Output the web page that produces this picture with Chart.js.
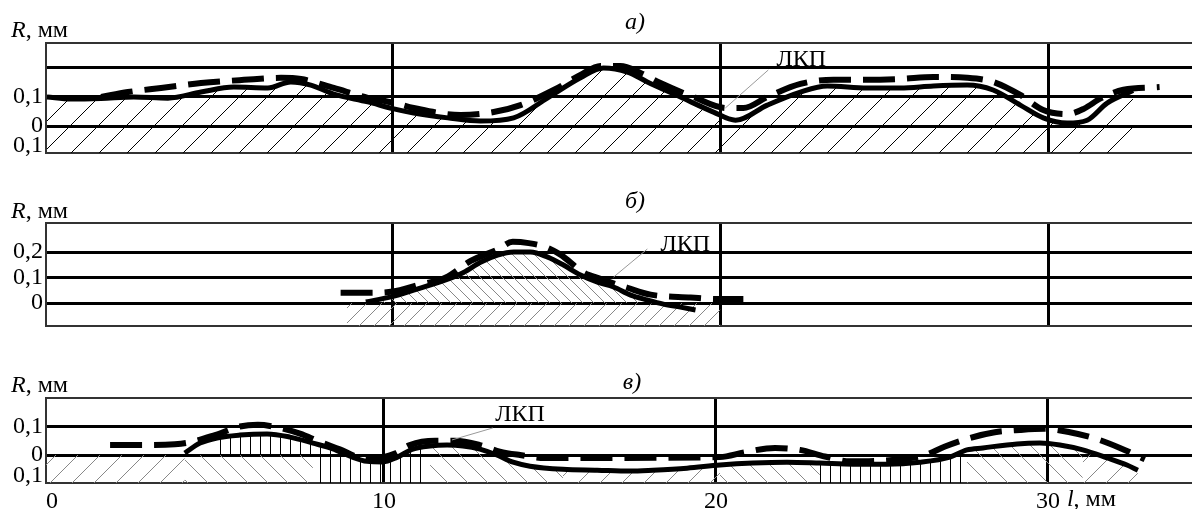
<!DOCTYPE html>
<html lang="ru">
<head>
<meta charset="utf-8">
<script src="https://cdn.jsdelivr.net/npm/chart.js@4.4.1/dist/chart.umd.min.js"></script>
<style>
  body { margin: 0; background: #fff; }
  .panel { position: absolute; left: 0; }
</style>
</head>
<body>
<canvas id="chartA" class="panel" width="1192" height="160" style="top:0"></canvas>
<canvas id="chartB" class="panel" width="1192" height="175" style="top:160px"></canvas>
<canvas id="chartC" class="panel" width="1192" height="174" style="top:335px"></canvas>
<script>
// ---- данные (l, мм ; R, мм) ----
const solidA = [[-0.55,0.1],[0.18,0.093],[1.1,0.095],[2.1,0.1],[3.14,0.096],[4.15,0.117],[5.15,0.134],
  [6.19,0.131],[6.89,0.152],[7.5,0.141],[8.2,0.11],[9.24,0.083],[10.0,0.06],[10.64,0.045],[11.68,0.028],
  [12.68,0.017],[13.69,0.028],[14.73,0.097],[15.73,0.166],[16.43,0.2],[17.16,0.186],[17.77,0.152],
  [18.78,0.1],[19.79,0.048],[20.46,0.02],[21.43,0.072],[22.44,0.117],[23.26,0.138],[24.48,0.131],
  [25.49,0.131],[26.5,0.138],[27.53,0.141],[28.32,0.124],[29.15,0.072],[29.85,0.028],[30.58,0.01],
  [31.19,0.02],[31.8,0.079],[32.59,0.122]];
const dashedA = [[1.1,0.1],[1.92,0.117],[2.93,0.131],[4.15,0.148],[5.46,0.159],[6.59,0.166],[7.2,0.162],
  [8.2,0.131],[9.24,0.097],[10.03,0.08],[10.64,0.062],[12.07,0.038],[13.08,0.048],[13.9,0.072],
  [14.91,0.124],[15.73,0.176],[16.34,0.207],[16.95,0.207],[17.56,0.183],[18.17,0.148],[19.18,0.1],
  [20.2,0.062],[20.7,0.062],[21.43,0.1],[22.44,0.145],[23.45,0.159],[24.48,0.159],[25.49,0.162],
  [26.5,0.169],[27.53,0.166],[28.32,0.152],[29.15,0.107],[29.85,0.055],[30.58,0.041],[31.1,0.06],
  [31.6,0.095],[32.3,0.125],[33.4,0.134]];

const solidB = [[9.18,0.004],[9.94,0.024],[10.64,0.051],[11.68,0.094],[12.16,0.12],[12.68,0.16],
  [13.2,0.188],[13.69,0.2],[14.2,0.2],[14.73,0.18],[15.21,0.149],[15.73,0.11],[16.25,0.082],
  [16.74,0.063],[17.26,0.031],[17.77,0.012],[18.26,-0.004],[18.78,-0.016],[19.24,-0.027]];
const dashedB = [[8.41,0.04],[9.12,0.04],[10.0,0.045],[10.76,0.07],[11.62,0.1],[12.38,0.165],
  [13.2,0.21],[13.66,0.24],[14.15,0.235],[14.66,0.22],[15.12,0.19],[15.82,0.12],[16.34,0.095],
  [17.16,0.06],[17.87,0.033],[19.09,0.022],[19.91,0.016],[20.7,0.016]];
const substrateB = [8.6, 20.0];
const coatingB = [9.18, 17.77];

const solidC = [[4.0,0.007],[4.46,0.042],[4.97,0.06],[5.66,0.07],[6.48,0.074],[7.17,0.063],[7.86,0.042],
  [8.46,0.022],[8.98,-0.004],[9.49,-0.022],[9.97,-0.024],[10.39,-0.008],[10.87,0.021],[11.39,0.032],
  [11.9,0.035],[12.38,0.032],[12.89,0.021],[13.4,0.0],[13.89,-0.025],[14.4,-0.039],[15.39,-0.05],
  [16.42,-0.053],[17.41,-0.056],[18.1,-0.053],[19.13,-0.046],[20.12,-0.035],[21.11,-0.028],
  [22.14,-0.025],[23.13,-0.028],[24.13,-0.032],[25.15,-0.032],[26.14,-0.025],[27.05,-0.007],
  [27.56,0.018],[28.04,0.025],[29.07,0.039],[29.76,0.042],[30.36,0.035],[31.05,0.018],[31.78,-0.01],
  [32.38,-0.035],[32.71,-0.053]];
const dashedC = [[1.75,0.035],[2.86,0.035],[3.7,0.038],[4.16,0.045],[4.91,0.07],[5.66,0.1],[6.2,0.106],
  [6.66,0.1],[7.47,0.075],[8.07,0.046],[8.67,0.02],[9.28,-0.008],[9.79,-0.01],[10.33,0.005],
  [10.78,0.035],[11.54,0.05],[12.14,0.05],[12.89,0.035],[13.49,0.012],[14.1,0.0],[14.85,-0.01],
  [16.5,-0.01],[20.12,-0.007],[20.87,0.01],[21.78,0.025],[22.53,0.018],[23.28,-0.005],[24.04,-0.022],
  [24.94,-0.02],[25.63,-0.014],[26.3,0.0],[26.9,0.03],[27.65,0.06],[28.4,0.08],[29.16,0.088],
  [29.9,0.092],[30.66,0.08],[31.42,0.058],[32.17,0.025],[32.92,-0.015]];
// зоны штриховки: [от, до, вид]
const zeroZonesC = [[-0.18, 4.0, 'fwd'], [4.0, 7.86, 'back']];
const coatZonesC = [[4.97, 7.86, 'vert']];
const curveZonesC = [[7.86, 11.39, 'vert'], [11.39, 15.39, 'back'], [15.39, 20.12, 'fwd'],
  [20.12, 23.13, 'back'], [23.13, 27.56, 'vert'], [27.56, 31.05, 'back'], [31.05, 32.71, 'fwd']];

const xTicksAB = [10, 20, 30];
const xTicksC = [0, 10, 20, 30];
const xLabelsC = ['0', '10', '20', '30'];
const yLabelsA = [['0,1', ''], '0', '0,1', '', ''];
const yLabelsB = ['', '0', '0,1', '0,2', ''];
const yLabelsC = [['0,1', ''], '0', '0,1', ''];

const FONT = '"Liberation Serif", "Times New Roman", serif';

const toPts = arr => arr.map(([x, y]) => ({ x, y }));
const slicePts = (arr, a, b) => toPts(arr.filter(([x]) => x >= a - 1e-6 && x <= b + 1e-6));
const flatPts = (a, b) => [{ x: a, y: 0 }, { x: b, y: 0 }];

function hatch(ctx, kind, size, color) {
  const c = document.createElement('canvas');
  c.width = size; c.height = size;
  const g = c.getContext('2d');
  g.strokeStyle = color;
  g.lineWidth = 1;
  g.beginPath();
  if (kind === 'vert') {
    g.moveTo(0.5, 0); g.lineTo(0.5, size);
  } else if (kind === 'fwd') {
    g.moveTo(-1, size + 1); g.lineTo(size + 1, -1);
    g.moveTo(-1, 1); g.lineTo(1, -1);
    g.moveTo(size - 1, size + 1); g.lineTo(size + 1, size - 1);
  } else {
    g.moveTo(-1, -1); g.lineTo(size + 1, size + 1);
    g.moveTo(size - 1, -1); g.lineTo(size + 1, 1);
    g.moveTo(-1, size - 1); g.lineTo(1, size + 1);
  }
  g.stroke();
  return ctx.createPattern(c, 'repeat');
}

const lineDs = (data, dashed) => ({
  data: toPts(data),
  borderColor: '#000',
  borderWidth: dashed ? 6 : 5,
  borderDash: dashed ? [32, 12] : [],
  borderCapStyle: 'butt',
  pointRadius: 0,
  fill: false,
  cubicInterpolationMode: 'monotone'
});
const fillDs = (data, pattern, to) => ({
  data,
  borderWidth: 0,
  borderColor: 'rgba(0,0,0,0)',
  backgroundColor: pattern,
  pointRadius: 0,
  fill: to,
  cubicInterpolationMode: 'monotone'
});

// подписи: R, мм / а) / ЛКП
const panelText = {
  id: 'panelText',
  afterDraw(chart, args, o) {
    const { ctx } = chart;
    const x = chart.scales.x, y = chart.scales.y;
    ctx.save();
    ctx.fillStyle = '#000';
    ctx.textAlign = 'left';
    ctx.textBaseline = 'alphabetic';
    ctx.font = 'italic 24px ' + FONT;
    ctx.fillText('R', 11, o.unitY);
    const w = ctx.measureText('R').width;
    ctx.font = '24px ' + FONT;
    ctx.fillText(', мм', 11 + w, o.unitY);

    ctx.font = 'italic 24px ' + FONT;
    ctx.textAlign = 'center';
    ctx.textBaseline = 'middle';
    ctx.fillText(o.title, o.titleX, o.titleY);

    ctx.strokeStyle = '#999';
    ctx.lineWidth = 1;
    ctx.beginPath();
    ctx.moveTo(x.getPixelForValue(o.lead[0]), y.getPixelForValue(o.lead[1]));
    ctx.lineTo(x.getPixelForValue(o.lead[2]), y.getPixelForValue(o.lead[3]));
    ctx.stroke();
    ctx.font = '24px ' + FONT;
    ctx.fillText('ЛКП', x.getPixelForValue(o.lkp[0]), y.getPixelForValue(o.lkp[1]));

    if (o.xUnit) {
      const px = x.getPixelForValue(30);
      const ty = chart.chartArea.bottom + 17;
      ctx.textAlign = 'left';
      ctx.font = 'italic 24px ' + FONT;
      ctx.fillText('l', px + 19, ty);
      const lw = ctx.measureText('l').width;
      ctx.font = '24px ' + FONT;
      ctx.fillText(', мм', px + 19 + lw, ty);
    }
    ctx.restore();
  }
};

function makePanel(id, cfg) {
  const edge = v => v === cfg.yMin || v === cfg.yMax;
  return new Chart(document.getElementById(id), {
    type: 'line',
    data: { datasets: cfg.datasets },
    options: {
      responsive: false,
      animation: false,
      events: [],
      layout: { padding: { top: cfg.top, left: 0, right: 0, bottom: 0 } },
      plugins: {
        legend: { display: false },
        tooltip: { enabled: false },
        panelText: cfg.text
      },
      scales: {
        x: {
          type: 'linear',
          min: cfg.xMin,
          max: cfg.xMax,
          afterBuildTicks: s => { s.ticks = cfg.xTicks.map(v => ({ value: v })); },
          afterFit: s => { s.height = cfg.xHeight; s.paddingLeft = 0; s.paddingRight = 0; },
          ticks: {
            display: !!cfg.xLabels,
            autoSkip: false,
            maxRotation: 0,
            padding: 4,
            color: '#000',
            font: { family: FONT, size: 24 },
            callback: (v, i) => cfg.xLabels ? cfg.xLabels[i] : ''
          },
          grid: {
            drawTicks: false,
            color: c => (c.tick && c.tick.value === 0) ? 'rgba(0,0,0,0)' : '#000',
            lineWidth: 3
          },
          border: { display: false }
        },
        y: {
          type: 'linear',
          min: cfg.yMin,
          max: cfg.yMax,
          afterBuildTicks: s => { s.ticks = cfg.yTicks.map(v => ({ value: v })); },
          afterFit: s => { s.width = 46; s.paddingTop = 0; s.paddingBottom = 0; },
          ticks: {
            autoSkip: false,
            padding: 3,
            color: '#000',
            font: { family: FONT, size: 24, lineHeight: 0.6 },
            callback: (v, i) => cfg.yLabels[i]
          },
          grid: {
            drawTicks: false,
            color: c => (c.tick && edge(c.tick.value)) ? '#333' : '#000',
            lineWidth: c => (c.tick && edge(c.tick.value)) ? 2 : 3
          },
          border: { display: true, color: '#333', width: 2 }
        }
      }
    },
    plugins: [panelText]
  });
}

// ---- а) ----
const ctxA = document.getElementById('chartA').getContext('2d');
makePanel('chartA', {
  top: 43, xHeight: 7,
  xMin: -0.58, xMax: 34.39, xTicks: xTicksAB,
  yMin: -0.093, yMax: 0.286, yTicks: [-0.093, 0, 0.1, 0.2, 0.286], yLabels: yLabelsA,
  datasets: [
    lineDs(dashedA, true),
    lineDs(solidA, false),
    fillDs(toPts(solidA), hatch(ctxA, 'fwd', 28, '#000'), 'start')
  ],
  text: { title: 'а)', titleX: 635, titleY: 23, unitY: 37,
          lkp: [22.47, 0.228], lead: [21.46, 0.193, 20.15, 0.062] }
});

// ---- б) ----
const ctxB = document.getElementById('chartB').getContext('2d');
makePanel('chartB', {
  top: 63, xHeight: 9,
  xMin: -0.58, xMax: 34.39, xTicks: xTicksAB,
  yMin: -0.09, yMax: 0.314, yTicks: [-0.09, 0, 0.1, 0.2, 0.314], yLabels: yLabelsB,
  datasets: [
    lineDs(dashedB, true),
    lineDs(solidB, false),
    fillDs(slicePts(solidB, coatingB[0], coatingB[1]), hatch(ctxB, 'back', 11, '#888'), { value: 0 }),
    fillDs(flatPts(substrateB[0], substrateB[1]), hatch(ctxB, 'fwd', 15, '#888'), 'start')
  ],
  text: { title: 'б)', titleX: 635, titleY: 42, unitY: 58,
          lkp: [18.93, 0.227], lead: [17.77, 0.212, 16.74, 0.102] }
});

// ---- в) ----
const ctxC = document.getElementById('chartC').getContext('2d');
const patC = {
  fwd: hatch(ctxC, 'fwd', 22, '#888'),
  back: hatch(ctxC, 'back', 20, '#888'),
  vert: hatch(ctxC, 'vert', 10, '#000')
};
const fillsC = [
  ...coatZonesC.map(([a, b, k]) => fillDs(slicePts(solidC, a, b), patC[k], { value: 0 })),
  ...curveZonesC.map(([a, b, k]) => fillDs(slicePts(solidC, a, b), patC[k], 'start')),
  ...zeroZonesC.map(([a, b, k]) => fillDs(flatPts(a, b), patC[k], 'start'))
];
makePanel('chartC', {
  top: 63, xHeight: 26,
  xMin: -0.18, xMax: 34.34, xTicks: xTicksC, xLabels: xLabelsC,
  yMin: -0.098, yMax: 0.2, yTicks: [-0.098, 0, 0.1, 0.2], yLabels: yLabelsC,
  datasets: [
    lineDs(dashedC, true),
    lineDs(solidC, false),
    ...fillsC
  ],
  text: { title: 'в)', titleX: 632, titleY: 48, unitY: 57, xUnit: true,
          lkp: [14.1, 0.141], lead: [13.28, 0.095, 12.05, 0.053] }
});
</script>
</body>
</html>
